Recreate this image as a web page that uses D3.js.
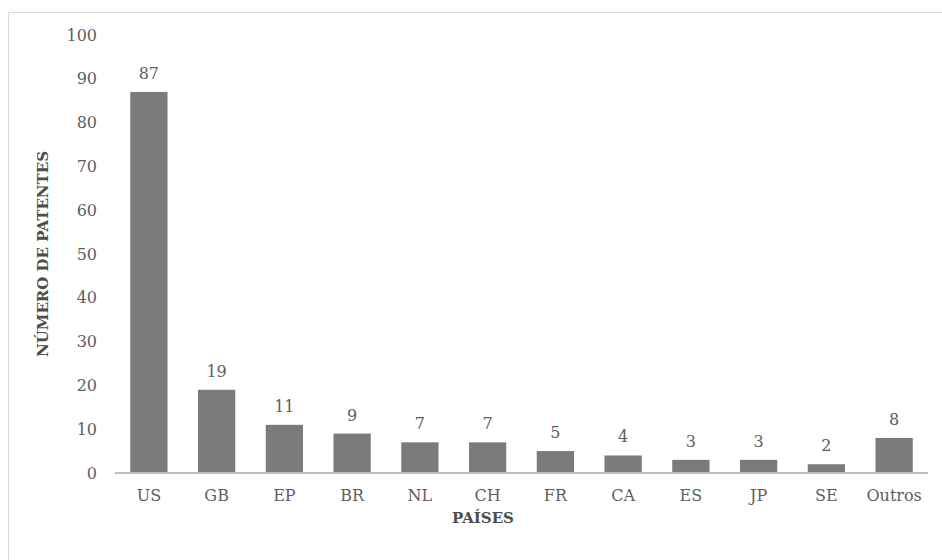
<!DOCTYPE html>
<html><head><meta charset="utf-8">
<script src="https://cdn.jsdelivr.net/npm/d3@7"></script>
<style>
html,body{margin:0;padding:0;background:#fff;}
svg{display:block;}
text{font-family:"DejaVu Serif","Liberation Serif",serif;}
</style></head>
<body>
<script>
const categories = ["US","GB","EP","BR","NL","CH","FR","CA","ES","JP","SE","Outros"];
const values = [87,19,11,9,7,7,5,4,3,3,2,8];
const yTicks = [0,10,20,30,40,50,60,70,80,90,100];
const yTitle = "NÚMERO DE PATENTES";
const xTitle = "PAÍSES";

const W = 942, H = 560;
const svg = d3.select("body").append("svg").attr("width", W).attr("height", H);

svg.append("rect").attr("x", 8.5).attr("y", 12.5).attr("width", W).attr("height", H)
  .attr("fill", "#fff").attr("stroke", "#d9d9d9").attr("stroke-width", 1);

const mLeft = 115, mRight = 928, mTop = 35, mBottom = 473;
const x = d3.scaleBand().domain(categories).range([mLeft, mRight]).paddingInner(0.45).paddingOuter(0.225);
const y = d3.scaleLinear().domain([0, 100]).range([mBottom, mTop]);

const textColor = "#5e5e5e";
const fontFam = '"DejaVu Serif","Liberation Serif",serif';

// y axis labels
const yAxis = d3.axisLeft(y).tickValues(yTicks).tickSize(0).tickPadding(0);
const yg = svg.append("g").attr("transform", `translate(${mLeft - 18},0)`).call(yAxis);
yg.select(".domain").remove();
yg.selectAll("text").attr("fill", textColor).style("font-size", "16px").style("font-family", fontFam);

// bars
svg.append("g").selectAll("rect").data(values).join("rect")
  .attr("x", (d, i) => x(categories[i]))
  .attr("y", d => y(d))
  .attr("width", x.bandwidth())
  .attr("height", d => y(0) - y(d))
  .attr("fill", "#7b7b7b");

// value labels
svg.append("g").selectAll("text").data(values).join("text")
  .attr("x", (d, i) => x(categories[i]) + x.bandwidth() / 2)
  .attr("y", d => y(d) - 13)
  .attr("text-anchor", "middle")
  .attr("fill", textColor)
  .style("font-size", "16px")
  .text(d => d);

// x axis
const xAxis = d3.axisBottom(x).tickSize(0).tickPadding(17);
const xg = svg.append("g").attr("transform", `translate(0,${mBottom})`).call(xAxis);
xg.select(".domain").attr("stroke", "#bcbcbc").attr("stroke-width", 2)
  .attr("d", `M${mLeft},0H${mRight}`);
xg.selectAll("text").attr("fill", textColor).style("font-size", "16px").style("font-family", fontFam);

// titles
svg.append("text").attr("x", 483).attr("y", 523).attr("text-anchor", "middle")
  .attr("fill", "#4d4d4d").style("font-size", "15px").style("font-weight", "bold")
  .text(xTitle);
svg.append("text").attr("transform", `translate(48,254) rotate(-90)`).attr("text-anchor", "middle")
  .attr("fill", "#4d4d4d").style("font-size", "15px").style("font-weight", "bold")
  .text(yTitle);
</script>
</body></html>
